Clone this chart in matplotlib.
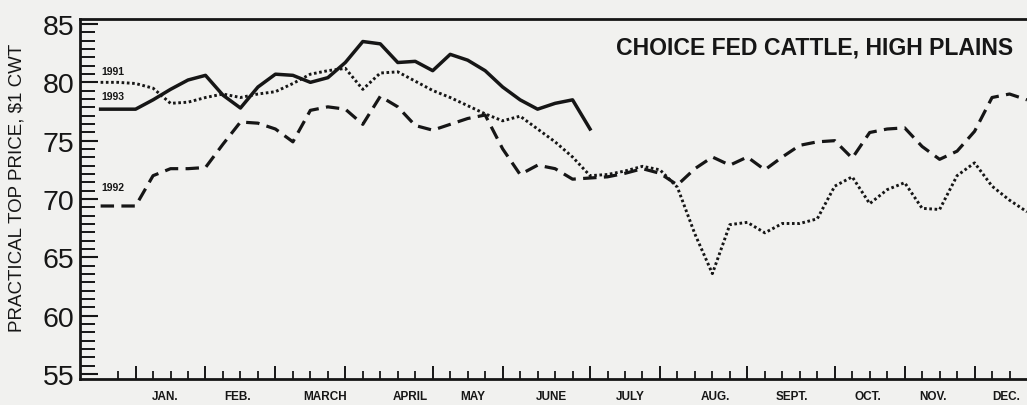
import numpy as np
import matplotlib
matplotlib.use("Agg")
import matplotlib.pyplot as plt

# weekly prices, week index -1 .. 52
weeks = np.arange(-1, 53)

p1991 = [80.0, 80.0, 79.9, 79.5, 78.2, 78.3, 78.7, 79.0, 78.7, 79.0,
         79.2, 79.9, 80.7, 81.0, 81.2, 79.4, 80.8, 80.9, 80.1, 79.3,
         78.7, 78.0, 77.3, 76.7, 77.1, 76.0, 74.9, 73.6, 72.0, 72.1,
         72.4, 72.8, 72.5, 71.0, 67.0, 63.6, 67.8, 68.0, 67.1, 67.9,
         67.9, 68.3, 71.1, 71.9, 69.6, 70.8, 71.4, 69.2, 69.1, 72.0,
         73.1, 71.1, 69.9, 68.9]

p1992 = [69.4, 69.4, 69.4, 72.0, 72.6, 72.6, 72.7, 74.7, 76.6, 76.5,
         76.0, 74.9, 77.6, 77.9, 77.7, 76.4, 78.8, 77.9, 76.3, 75.9,
         76.4, 76.9, 77.2, 74.3, 72.1, 72.9, 72.6, 71.7, 71.8, 71.9,
         72.2, 72.6, 72.2, 71.2, 72.6, 73.6, 72.9, 73.6, 72.5, 73.6,
         74.6, 74.9, 75.0, 73.5, 75.7, 76.0, 76.1, 74.5, 73.4, 74.1,
         75.8, 78.7, 79.0, 78.5]

# 1993 only through June
p1993 = [77.7, 77.7, 77.7, 78.5, 79.4, 80.2, 80.6, 78.9, 77.8, 79.6,
         80.7, 80.6, 80.0, 80.4, 81.7, 83.5, 83.3, 81.7, 81.8, 81.0,
         82.4, 81.9, 81.0, 79.6, 78.5, 77.7, 78.2, 78.5, 76.0]

months = ["JAN.", "FEB.", "MARCH", "APRIL", "MAY", "JUNE",
          "JULY", "AUG.", "SEPT.", "OCT.", "NOV.", "DEC."]
month_pos = [2.68, 6.85, 11.83, 16.69, 20.3, 24.8,
             29.3, 34.2, 38.55, 42.9, 46.6, 50.8]
month_edges = [1, 5, 9, 13, 18, 22, 27, 31, 36, 41, 45, 49]

plt.rcParams['font.family'] = ['Liberation Sans', 'DejaVu Sans']
ink = '#161616'
paper = '#f1f1ef'

fig = plt.figure(figsize=(10.27, 4.06), dpi=100, facecolor=paper)
ax = fig.add_axes([80/1027, 26/406, 947/1027, 360/406])
ax.set_facecolor(paper)

ax.plot(weeks, p1991, color=ink, lw=2.1, linestyle=(0, (0.9, 0.9)))
ax.plot(weeks, p1992, color=ink, lw=2.3, linestyle=(0, (4.2, 2.3)))
ax.plot(weeks[:len(p1993)], p1993, color=ink, lw=2.5)

# series labels
ax.text(-0.95, 81.0, "1991", fontsize=7.5, fontweight='bold', color=ink, va='center')
ax.text(-0.95, 78.8, "1993", fontsize=7.5, fontweight='bold', color=ink, va='center')
ax.text(-0.95, 71.0, "1992", fontsize=7.5, fontweight='bold', color=ink, va='center')

ax.text(0.985, 0.922, "CHOICE FED CATTLE, HIGH PLAINS", transform=ax.transAxes,
        ha='right', va='center', fontsize=16.6, fontweight='bold', color=ink)

ax.set_xlim(-2.18, 52)
ax.set_ylim(54.57, 85.43)

ax.set_xticks(month_edges)
ax.set_xticklabels([])
ax.set_xticks(np.arange(0, 52), minor=True)
ax.tick_params(axis='x', which='major', direction='in', length=9.5, width=1.4, color=ink)
ax.tick_params(axis='x', which='minor', direction='in', length=5.5, width=1.3, color=ink)
for name, pos in zip(months, month_pos):
    ax.text(pos, -0.047, name, transform=ax.get_xaxis_transform(), ha='center',
            va='center', fontsize=8.5, fontweight='bold', color=ink)

ax.set_yticks(np.arange(55, 86, 5))
ax.set_yticks(np.linspace(55, 85, 43), minor=True)
ax.tick_params(axis='y', which='major', direction='in', length=13, width=1.5,
               labelsize=20.5, pad=4, color=ink, labelcolor=ink)
ax.tick_params(axis='y', which='minor', direction='in', length=10.5, width=1.4, color=ink)

for side in ['left', 'bottom', 'top']:
    ax.spines[side].set_linewidth(2.0)
    ax.spines[side].set_color(ink)
ax.spines['right'].set_visible(False)

fig.text(17/1027, 1 - 188/406, "PRACTICAL TOP PRICE, $1 CWT", rotation=90,
         ha='center', va='center', fontsize=13.5, color=ink)

fig.savefig("out.png", dpi=100, facecolor=paper)
